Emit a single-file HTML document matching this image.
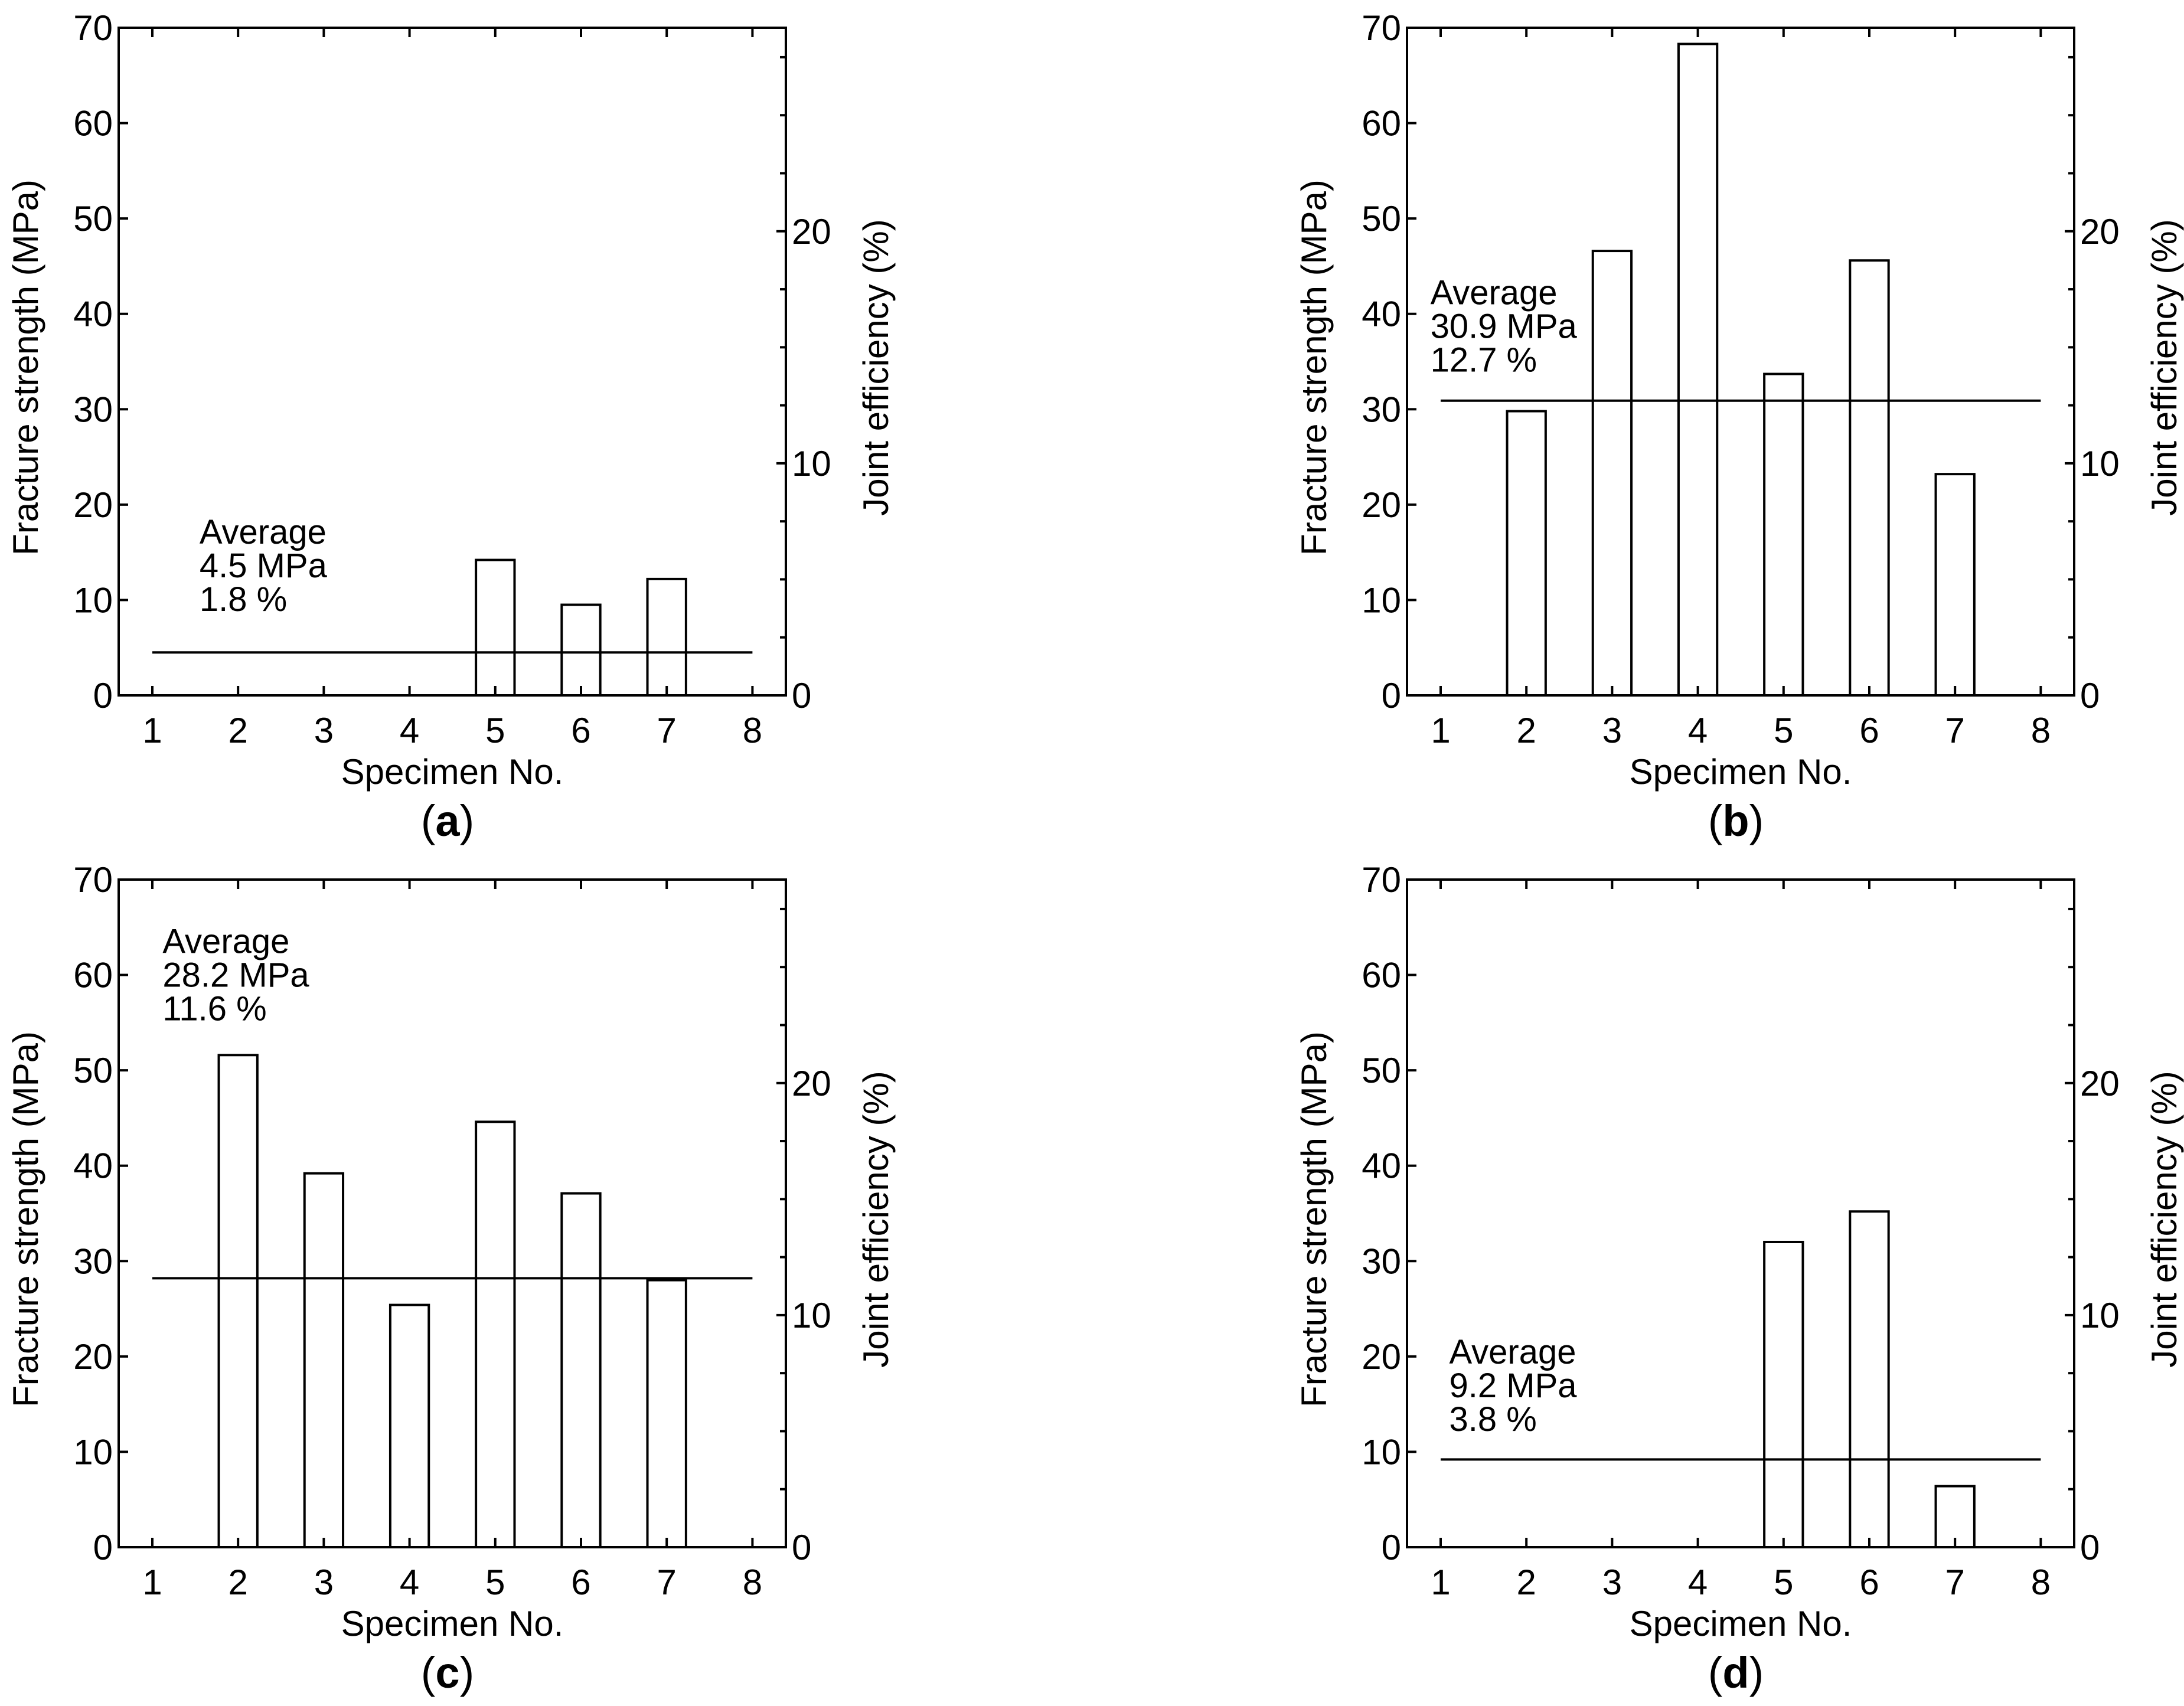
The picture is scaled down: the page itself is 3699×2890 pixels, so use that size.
<!DOCTYPE html>
<html><head><meta charset="utf-8"><style>
html,body{margin:0;padding:0;background:#fff;}
svg{display:block;}
text{font-family:"Liberation Sans",sans-serif;fill:#000;}
</style></head><body>
<svg id="fig" width="3699" height="2890" viewBox="0 0 3699 2890" xmlns="http://www.w3.org/2000/svg"></svg>
<script>
const specimens=[1,2,3,4,5,6,7,8];
const yTicks=[0,10,20,30,40,50,60,70];
const rTicks=[0,10,20];
const panelLabels=["a","b","c","d"];
const valsA=[null,null,null,null,14.2,9.5,12.2,null];
const valsB=[null,29.8,46.6,68.3,33.7,45.6,23.2,null];
const valsC=[null,51.6,39.2,25.4,44.6,37.1,28.0,null];
const valsD=[null,null,null,null,32.0,35.2,6.4,null];
const averages=[4.5,30.9,28.2,9.2];
const avgTextMPa=["4.5 MPa","30.9 MPa","28.2 MPa","9.2 MPa"];
const avgTextPct=["1.8 %","12.7 %","11.6 %","3.8 %"];
const annotAt=[[1.55,15.9],[0.88,41.0],[1.12,62.3],[1.1,19.25]];
const series=[valsA,valsB,valsC,valsD];
const jointMax=28.77;

const NS="http://www.w3.org/2000/svg";
const svg=document.getElementById('fig');
function mk(tag,attrs,parent){const e=document.createElementNS(NS,tag);for(const k in attrs)e.setAttribute(k,attrs[k]);(parent||svg).appendChild(e);return e;}
const origins=[[201,47],[2383,47],[201,1490],[2383,1490]];
const W=1130,H=1131;
for(let p=0;p<4;p++){
  const [L,T]=origins[p];const B=T+H,R=L+W;
  const g=mk('g',{});
  
  
  const xs=v=>L+57+(v-1)*145.2;
  const ys=v=>B-v/70*H;
  const yr=v=>B-v/jointMax*H;
  series[p].forEach((v,i)=>{ if(v===null)return;
    const bw=0.45*145.2;
    const r=mk('rect',{x:xs(specimens[i])-bw/2,y:ys(v),width:bw,height:B-ys(v),fill:'none',stroke:'#000','stroke-width':4},g);
    
    
  });
  const al=mk('line',{x1:xs(1),x2:xs(8),y1:ys(averages[p]),y2:ys(averages[p]),stroke:'#000','stroke-width':4},g);
  
  
  const fr=mk('rect',{x:L,y:T,width:W,height:H,fill:'none',stroke:'#000','stroke-width':4},g);
  
  
  specimens.forEach(s=>{
    mk('line',{x1:xs(s),x2:xs(s),y1:B,y2:B-16,stroke:'#000','stroke-width':4},g);
    mk('line',{x1:xs(s),x2:xs(s),y1:T,y2:T+16,stroke:'#000','stroke-width':4},g);
    const t=mk('text',{x:xs(s),y:B+80,'font-size':60,'text-anchor':'middle'},g);t.textContent=s;
    
    
  });
  yTicks.forEach(v=>{
    mk('line',{x1:L,x2:L+16,y1:ys(v),y2:ys(v),stroke:'#000','stroke-width':4},g);
    const t=mk('text',{x:L-10,y:ys(v)+21,'font-size':60,'text-anchor':'end'},g);t.textContent=v;
    
    
  });
  for(let v=2.5;v<jointMax;v+=2.5){
    const len=(Math.abs(v%10)<0.01)?16:10;
    mk('line',{x1:R,x2:R-len,y1:yr(v),y2:yr(v),stroke:'#000','stroke-width':4},g);
  }
  rTicks.forEach(v=>{
    const t=mk('text',{x:R+10,y:yr(v)+21,'font-size':60},g);t.textContent=v;
    
    
  });
  const xt=mk('text',{x:L+W/2,y:B+150,'font-size':60,'text-anchor':'middle'},g);xt.textContent='Specimen No.';
  
  
  const cy=T+H/2+10;
  const yt=mk('text',{x:L-158,y:cy,'font-size':60,'text-anchor':'middle',transform:`rotate(-90 ${L-158} ${cy})`,dy:21},g);yt.textContent='Fracture strength (MPa)';
  
  
  const rt=mk('text',{x:R+152,y:cy,'font-size':60,'text-anchor':'middle',transform:`rotate(-90 ${R+152} ${cy})`,dy:21},g);rt.textContent='Joint efficiency (%)';
  
  
  const ax=xs(annotAt[p][0]),ay=ys(annotAt[p][1]);
  ['Average',avgTextMPa[p],avgTextPct[p]].forEach((s,i)=>{
    const t=mk('text',{x:ax,y:ay+i*57,'font-size':58},g);t.textContent=s;
    
    
  });
  const pl=mk('text',{x:L+W/2-8,y:B+238,'font-size':74,'text-anchor':'middle','font-family':'Liberation Serif, serif'},g);
  pl.innerHTML='(<tspan font-weight="bold">'+panelLabels[p]+'</tspan>)';
  
  
}
</script>
</body></html>
